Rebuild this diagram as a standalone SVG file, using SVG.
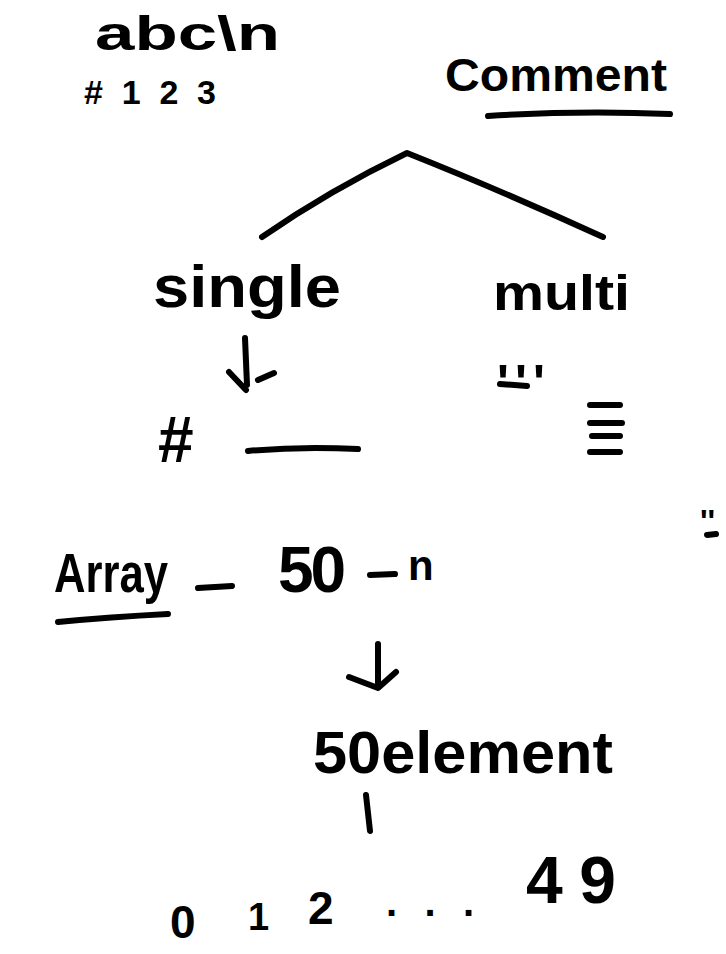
<svg xmlns="http://www.w3.org/2000/svg" width="726" height="954" viewBox="0 0 726 954">
<style>
.pen{stroke:#000;stroke-width:6;fill:none;stroke-linecap:round;stroke-linejoin:round}
.t{font-family:"Liberation Sans","DejaVu Sans",sans-serif;fill:#000;font-weight:bold}
</style>
<rect width="726" height="954" fill="#fff"/>
<g id="abc"><text class="t" x="95" y="50" font-size="48" textLength="185" lengthAdjust="spacingAndGlyphs">abc\n</text></g>
<g id="num"><text class="t" x="84" y="104" font-size="34" textLength="132">#123</text></g>
<g id="comment"><text class="t" x="445" y="91" font-size="46" textLength="222" lengthAdjust="spacingAndGlyphs">Comment</text></g>
<g id="single"><text class="t" x="153" y="307" font-size="60" textLength="188" lengthAdjust="spacingAndGlyphs">single</text></g>
<g id="multi"><text class="t" x="493" y="310" font-size="50" textLength="137" lengthAdjust="spacingAndGlyphs">multi</text></g>
<g id="hash"><text class="t" x="158" y="462" font-size="64">#</text></g>
<g id="quotes"><text class="t" x="497" y="400" font-size="50" textLength="48">'''</text></g>
<g id="quotes2"><text class="t" x="700" y="532" font-size="32">''</text></g>
<g id="array"><text class="t" x="54" y="592" font-size="56" textLength="114" lengthAdjust="spacingAndGlyphs">Array</text></g>
<g id="fifty"><text class="t" x="278" y="592" font-size="64" textLength="68">50</text></g>
<g id="n"><text class="t" x="408" y="580" font-size="42">n</text></g>
<g id="element"><text class="t" x="313" y="773" font-size="60" textLength="300" lengthAdjust="spacingAndGlyphs">50element</text></g>
<g id="indices">
<text class="t" x="170" y="938" font-size="46">0</text>
<text class="t" x="248" y="930" font-size="38">1</text>
<text class="t" x="308" y="924" font-size="46">2</text>
<text class="t" x="386" y="916" font-size="40" textLength="88">...</text>
<text class="t" x="526" y="903" font-size="66" textLength="90">49</text>
</g>
<g id="connectors">
<path class="pen" d="M488,116 Q580,110 670,114"/>
<path class="pen" d="M262,237 Q330,190 407,153 Q500,190 603,237"/>
<path class="pen" d="M245,338 L247,385 M229,372 L246,390 M258,380 L274,373"/>
<path class="pen" d="M248,451 Q300,446 358,449"/>
<path class="pen" d="M500,384 L527,386"/>
<path class="pen" d="M590,405 L620,405 M590,423 L622,423 M592,436 L620,436 M590,452 L620,452"/>
<path class="pen" d="M707,535 L716,534"/>
<path class="pen" d="M58,622 Q110,617 168,614"/>
<path class="pen" d="M198,588 L232,586"/>
<path class="pen" d="M370,575 L395,574"/>
<path class="pen" d="M378,644 L378,686 M349,677 L378,688 L396,672"/>
<path class="pen" d="M366,795 L370,831"/>
</g>
</svg>
